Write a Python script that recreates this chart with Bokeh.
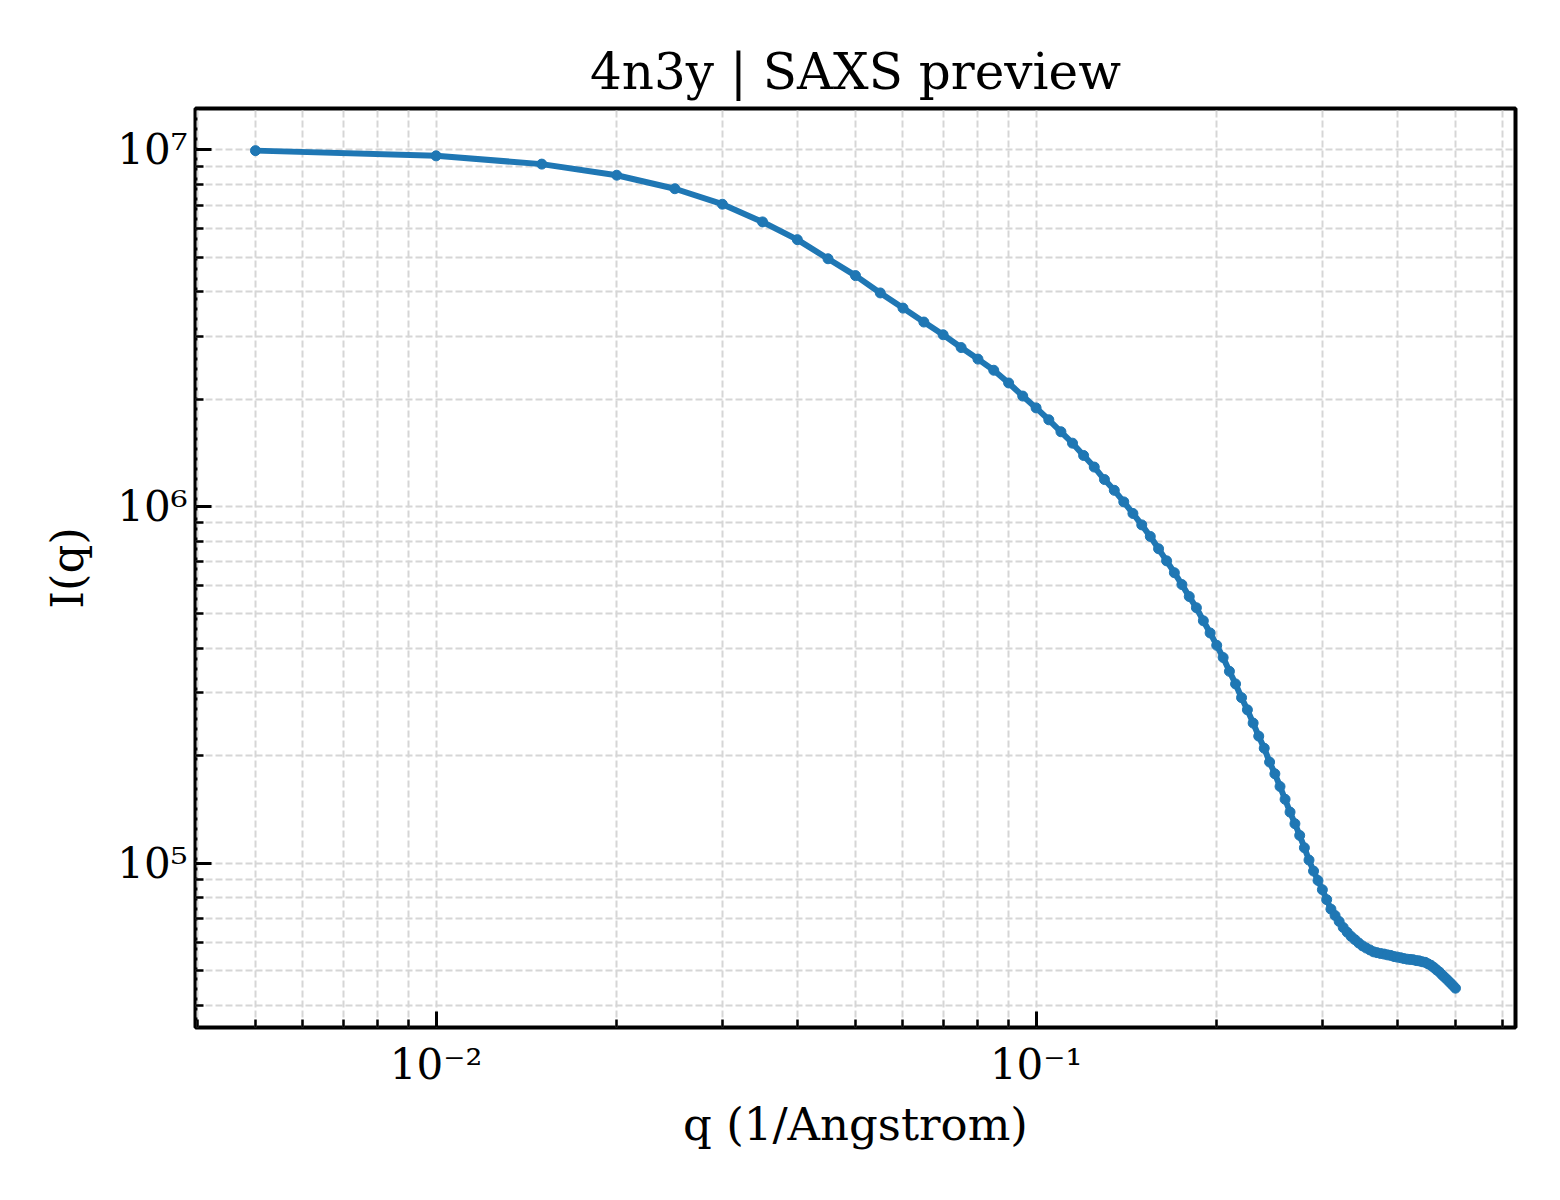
from bokeh.plotting import figure
from bokeh.models import Range1d, FixedTicker
from bokeh.embed import file_html
from bokeh.resources import INLINE

# SAXS profile, q in 1/Angstrom
q = [0.005, 0.010, 0.015, 0.020, 0.025, 0.030, 0.035, 0.040, 0.045, 0.050,
     0.055, 0.060, 0.065, 0.070, 0.075, 0.080, 0.085, 0.090, 0.095, 0.100,
     0.105, 0.110, 0.115, 0.120, 0.125, 0.130, 0.135, 0.140, 0.145, 0.150,
     0.155, 0.160, 0.165, 0.170, 0.175, 0.180, 0.185, 0.190, 0.195, 0.200,
     0.205, 0.210, 0.215, 0.220, 0.225, 0.230, 0.235, 0.240, 0.245, 0.250,
     0.255, 0.260, 0.265, 0.270, 0.275, 0.280, 0.285, 0.290, 0.295, 0.300,
     0.305, 0.310, 0.315, 0.320, 0.325, 0.330, 0.335, 0.340, 0.345, 0.350,
     0.355, 0.360, 0.365, 0.370, 0.375, 0.380, 0.385, 0.390, 0.395, 0.400,
     0.405, 0.410, 0.415, 0.420, 0.425, 0.430, 0.435, 0.440, 0.445, 0.450,
     0.455, 0.460, 0.465, 0.470, 0.475, 0.480, 0.485, 0.490, 0.495, 0.500]
intensity = [9.95e6, 9.62e6, 9.12e6, 8.49e6, 7.78e6, 7.04e6, 6.28e6, 5.60e6, 4.95e6, 4.44e6,
             3.97e6, 3.60e6, 3.29e6, 3.03e6, 2.79e6, 2.59e6, 2.41e6, 2.22e6, 2.04e6, 1.89e6,
             1.75e6, 1.62e6, 1.505e6, 1.39e6, 1.29e6, 1.19e6, 1.11e6, 1.03e6, 9.56e5, 8.88e5,
             8.24e5, 7.61e5, 7.04e5, 6.52e5, 6.04e5, 5.59e5, 5.20e5, 4.78e5, 4.42e5, 4.08e5,
             3.77e5, 3.45e5, 3.18e5, 2.91e5, 2.69e5, 2.47e5, 2.27e5, 2.10e5, 1.92e5, 1.78e5,
             1.64e5, 1.51e5, 1.39e5, 1.29e5, 1.196e5, 1.104e5, 1.02e5, 9.50e4, 8.94e4, 8.42e4,
             7.90e4, 7.43e4, 7.13e4, 6.86e4, 6.60e4, 6.40e4, 6.23e4, 6.10e4, 5.97e4, 5.86e4,
             5.78e4, 5.71e4, 5.64e4, 5.61e4, 5.58e4, 5.56e4, 5.53e4, 5.51e4, 5.47e4, 5.45e4,
             5.43e4, 5.40e4, 5.38e4, 5.37e4, 5.36e4, 5.33e4, 5.32e4, 5.29e4, 5.27e4, 5.22e4,
             5.17e4, 5.10e4, 5.02e4, 4.95e4, 4.86e4, 4.78e4, 4.70e4, 4.62e4, 4.54e4, 4.46e4]

x_ticks = [0.01, 0.1]
x_tick_labels = ["10\u207b\u00b2", "10\u207b\u00b9"]
y_ticks = [1e5, 1e6, 1e7]
y_tick_labels = ["10\u2075", "10\u2076", "10\u2077"]

FONT = "DejaVu Serif"
BLUE = "#1f77b4"

p = figure(x_axis_type="log", y_axis_type="log",
           frame_width=1320, frame_height=919,
           min_border_left=195, min_border_right=37,
           min_border_top=108, min_border_bottom=165,
           x_range=Range1d(0.003972, 0.6295), y_range=Range1d(3.46e4, 1.306e7),
           title="4n3y | SAXS preview",
           output_backend="svg", toolbar_location=None)
p.background_fill_color = "white"
p.border_fill_color = "white"

p.line(q, intensity, line_color=BLUE, line_width=6)
p.scatter(q, intensity, size=10, fill_color=BLUE, line_color=BLUE)

# ticks: decades as majors, 2..9 as minors
x_minor = [m * 10.0 ** e for e in (-3, -2, -1) for m in range(2, 10)]
y_minor = [m * 10.0 ** e for e in (4, 5, 6) for m in range(2, 10)]
p.xaxis.ticker = FixedTicker(ticks=x_ticks, minor_ticks=x_minor)
p.yaxis.ticker = FixedTicker(ticks=y_ticks, minor_ticks=y_minor)
p.xaxis.major_label_overrides = dict(zip(x_ticks, x_tick_labels))
p.yaxis.major_label_overrides = dict(zip(y_ticks, y_tick_labels))

p.title.align = "center"
p.title.text_font = FONT
p.title.text_font_size = "50px"
p.title.text_font_style = "normal"
p.title.text_color = "black"
p.title.standoff = 16

p.xaxis.axis_label = "q (1/Angstrom)"
p.yaxis.axis_label = "I(q)"
for ax in (p.xaxis, p.yaxis):
    ax.axis_label_text_font = FONT
    ax.axis_label_text_font_size = "45px"
    ax.axis_label_text_font_style = "normal"
    ax.axis_label_text_color = "black"
    ax.major_label_text_font = FONT
    ax.major_label_text_font_size = "42px"
    ax.major_label_text_color = "black"
    ax.axis_line_color = None
    ax.major_tick_in = 16
    ax.major_tick_out = 0
    ax.minor_tick_in = 8
    ax.minor_tick_out = 0
    ax.major_tick_line_width = 3
    ax.minor_tick_line_width = 2.5
    ax.major_tick_line_color = "black"
    ax.minor_tick_line_color = "black"
p.xaxis.major_label_standoff = 12
p.yaxis.major_label_standoff = 8
p.xaxis.axis_label_standoff = 6
p.yaxis.axis_label_standoff = 20

for g in (p.xgrid, p.ygrid):
    g.grid_line_color = "#d6d6d6"
    g.grid_line_width = 2
    g.grid_line_dash = "7 3"
    g.minor_grid_line_color = "#d6d6d6"
    g.minor_grid_line_width = 2
    g.minor_grid_line_dash = "7 3"

p.outline_line_color = "black"
p.outline_line_width = 4
p.outline_line_alpha = 1.0

open("out.html", "w").write(file_html(p, INLINE))
